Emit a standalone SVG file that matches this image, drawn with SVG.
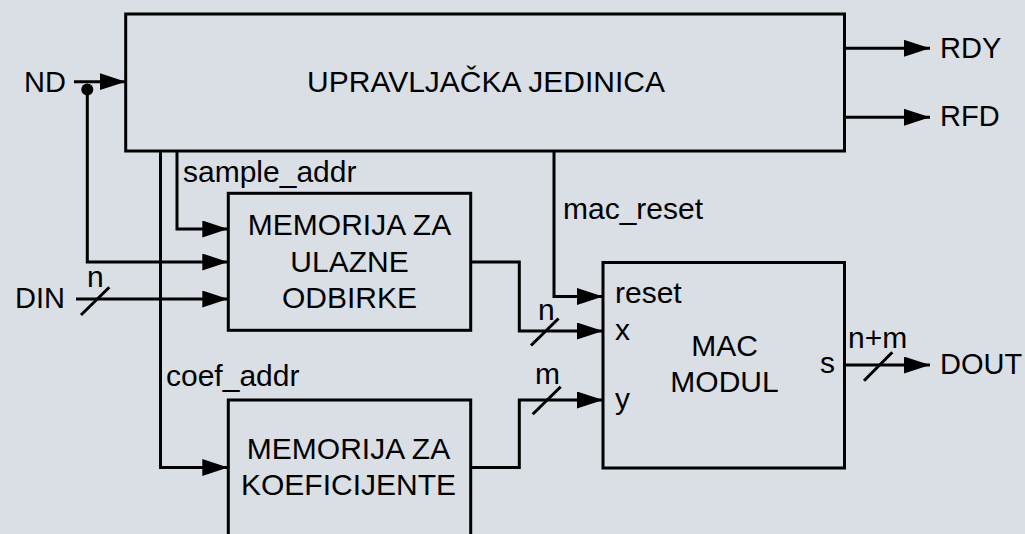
<svg xmlns="http://www.w3.org/2000/svg" width="1025" height="534" viewBox="0 0 1025 534">
<defs>
<marker id="arr" markerUnits="userSpaceOnUse" markerWidth="26" markerHeight="18" refX="26" refY="8.5" orient="auto">
<path d="M0,0 L26,8.5 L0,17 Z" fill="#000"/>
</marker>
<style>
.box{fill:#d9dfe5;stroke:#000;stroke-width:3}
.w{fill:none;stroke:#000;stroke-width:3}
.a{marker-end:url(#arr)}
text{font-family:"Liberation Sans",Arial,sans-serif;fill:#000;font-size:29px}
.lab{font-size:30px}
.big{font-size:30px;text-anchor:middle}
</style>
</defs>
<rect x="0" y="0" width="1025" height="534" fill="#d9dfe5"/>

<g id="connectors">
<path class="w a" d="M74,81.7 H125.7"/>
<path class="w a" d="M87.3,90 V262 H228.3"/>
<circle cx="87.3" cy="89.5" r="6" fill="#000"/>
<path class="w a" d="M177,151 V229 H228.3"/>
<path class="w a" d="M160.5,151 V467.5 H228.3"/>
<path class="w a" d="M76,299 H228.3"/>
<path class="w" d="M81,315 L109.3,287.3"/>
<path class="w a" d="M554,151 V296.5 H603"/>
<path class="w a" d="M470.7,262 H519.3 V331 H603"/>
<path class="w" d="M531,345.5 L558.5,318.5"/>
<path class="w a" d="M470.7,467.5 H519.3 V400 H603"/>
<path class="w" d="M532.7,414.3 L560.7,386.7"/>
<path class="w a" d="M844.5,48.3 H930"/>
<path class="w a" d="M844.5,117.3 H930"/>
<path class="w a" d="M844.5,365 H930"/>
<path class="w" d="M864,380.7 L892.3,352.3"/>
<text class="lab" x="183" y="182">sample_addr</text>
<text class="lab" x="166" y="386">coef_addr</text>
<text class="lab" x="563" y="219">mac_reset</text>
<text class="lab" x="87" y="287">n</text>
<text class="lab" x="538" y="320">n</text>
<text class="lab" x="535" y="384">m</text>
<text class="lab" x="848" y="348">n+m</text>
<text x="24" y="92">ND</text>
<text x="15" y="308">DIN</text>
<text x="940" y="58">RDY</text>
<text x="940" y="126">RFD</text>
<text x="940" y="374">DOUT</text>
</g>

<g id="upravljacka">
<rect class="box" x="125.7" y="14" width="718.8" height="137"/>
<text class="big" x="486" y="92">UPRAVLJAČKA JEDINICA</text>
</g>

<g id="mem-ulazne">
<rect class="box" x="228.3" y="193.3" width="242.4" height="137"/>
<text class="big" x="349.5" y="235">MEMORIJA ZA</text>
<text class="big" x="349.5" y="271.5">ULAZNE</text>
<text class="big" x="349.5" y="307.5">ODBIRKE</text>
</g>

<g id="mem-koef">
<rect class="box" x="228.3" y="400" width="242.4" height="150"/>
<text class="big" x="348.5" y="459">MEMORIJA ZA</text>
<text class="big" x="348.5" y="495">KOEFICIJENTE</text>
</g>

<g id="mac">
<rect class="box" x="603" y="262.5" width="241.5" height="205.5"/>
<text class="lab" x="615" y="303">reset</text>
<text class="lab" x="615" y="340">x</text>
<text class="lab" x="615" y="409">y</text>
<text class="big" x="724.5" y="356">MAC</text>
<text class="big" x="724.5" y="392">MODUL</text>
<text class="lab" x="820" y="373">s</text>
</g>
</svg>
